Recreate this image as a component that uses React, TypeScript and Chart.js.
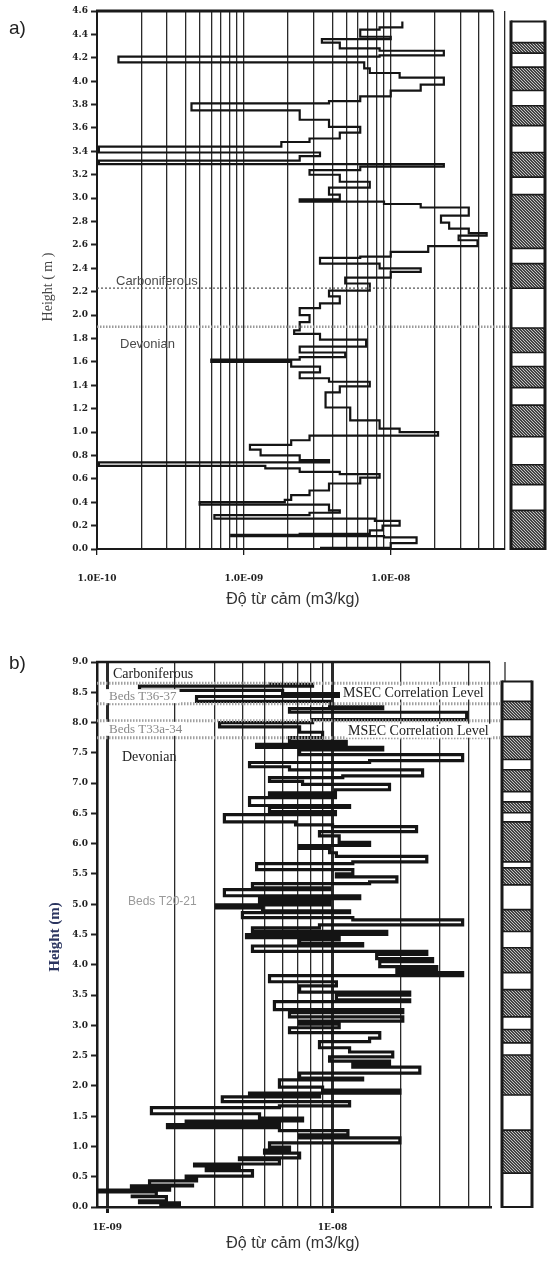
import React, { useEffect, useRef } from "react";
import { Chart, registerables } from "chart.js";
Chart.register(...registerables);

// ---------- Panel a: susceptibility profile (Carboniferous / Devonian) ----------
const aHeight = [
  0.01, 0.02, 0.05, 0.07, 0.10, 0.11, 0.12, 0.13, 0.16, 0.20,
  0.24, 0.26, 0.29, 0.31, 0.33, 0.38, 0.40, 0.42, 0.46, 0.50,
  0.56, 0.61, 0.64, 0.66, 0.69, 0.71, 0.74, 0.76, 0.80, 0.85,
  0.89, 0.93, 0.97, 1.00, 1.03, 1.10, 1.21, 1.34, 1.39, 1.43,
  1.46, 1.51, 1.56, 1.60, 1.62, 1.64, 1.68, 1.73, 1.79, 1.84,
  1.87, 1.94, 2.00, 2.06, 2.10, 2.16, 2.21, 2.27, 2.32, 2.37,
  2.40, 2.44, 2.49, 2.50, 2.54, 2.59, 2.64, 2.68, 2.70, 2.74,
  2.79, 2.85, 2.92, 2.95, 2.97, 2.99, 3.03, 3.09, 3.14, 3.20,
  3.24, 3.27, 3.29, 3.32, 3.36, 3.39, 3.44, 3.48, 3.51, 3.56,
  3.61, 3.67, 3.75, 3.81, 3.83, 3.87, 3.92, 3.97, 4.03, 4.07,
  4.11, 4.16, 4.21, 4.22, 4.26, 4.28, 4.33, 4.36, 4.38, 4.44,
  4.46, 4.51,
];
const aSusc = [
  3.3e-9, 1.0e-8, 1.0e-8, 1.5e-8, 1.5e-8, 9.0e-9, 8.2e-10, 2.4e-9, 7.2e-9, 8.8e-9,
  1.15e-8, 7.8e-9, 6.3e-10, 2.8e-9, 4.5e-9, 3.8e-9, 5.0e-10, 1.9e-9, 2.1e-9, 2.8e-9,
  3.8e-9, 6.2e-9, 8.4e-9, 4.5e-9, 2.4e-9, 1.4e-9, 1.03e-10, 3.8e-9, 2.4e-9, 1.3e-9,
  1.1e-9, 2.1e-9, 2.8e-9, 2.1e-8, 1.15e-8, 8.4e-9, 5.3e-9, 3.6e-9, 4.5e-9, 7.2e-9,
  3.8e-9, 2.4e-9, 3.3e-9, 2.1e-9, 6.0e-10, 2.4e-9, 4.9e-9, 2.4e-9, 6.8e-9, 3.3e-9,
  2.2e-9, 2.4e-9, 2.8e-9, 2.4e-9, 3.3e-9, 4.5e-9, 3.8e-9, 7.2e-9, 4.9e-9, 1.0e-8,
  1.6e-8, 8.4e-9, 3.3e-9, 6.2e-9, 1.0e-8, 1.8e-8, 3.9e-8, 2.9e-8, 4.5e-8, 3.4e-8,
  2.5e-8, 2.2e-8, 3.4e-8, 1.6e-8, 9.0e-9, 2.4e-9, 4.5e-9, 3.8e-9, 7.2e-9, 4.5e-9,
  2.8e-9, 6.2e-9, 2.3e-8, 1.03e-10, 2.4e-9, 3.3e-9, 1.03e-10, 1.8e-9, 2.8e-9, 4.5e-9,
  6.2e-9, 3.8e-9, 2.4e-9, 4.4e-10, 3.8e-9, 6.2e-9, 1.0e-8, 1.6e-8, 2.3e-8, 1.15e-8,
  7.2e-9, 6.6e-9, 1.4e-10, 8.4e-9, 2.3e-8, 8.4e-9, 4.5e-9, 3.4e-9, 1.0e-8, 6.2e-9,
  8.4e-9, 1.2e-8,
];
const aYTicks = [0, 0.2, 0.4, 0.6, 0.8, 1.0, 1.2, 1.4, 1.6, 1.8, 2.0, 2.2, 2.4, 2.6, 2.8, 3.0, 3.2, 3.4, 3.6, 3.8, 4.0, 4.2, 4.4, 4.6];
const aXLabelValues = [1e-10, 1e-9, 1e-8];
const aXLabels = ["1.0E-10", "1.0E-09", "1.0E-08"];
const aDecades = [1e-10, 1e-9, 1e-8];
const aStrataTop = 4.51;
const aHatched = [
  [4.24, 4.33], [3.92, 4.12], [3.62, 3.79], [3.18, 3.39], [2.57, 3.03], [2.23, 2.44],
  [1.68, 1.89], [1.38, 1.56], [0.96, 1.23], [0.55, 0.72], [0.0, 0.33],
];
const aBoundaryHeights = [2.23, 1.9];
const aTexts = ["Carboniferous", "Devonian"];

// ---------- Panel b ----------
const bHeight = [
  0.03, 0.07, 0.10, 0.17, 0.18, 0.25, 0.28, 0.31, 0.35, 0.36,
  0.43, 0.48, 0.51, 0.60, 0.63, 0.68, 0.71, 0.78, 0.81, 0.89,
  0.94, 0.99, 1.06, 1.14, 1.19, 1.26, 1.31, 1.36, 1.39, 1.42,
  1.47, 1.54, 1.64, 1.67, 1.74, 1.82, 1.87, 1.88, 1.93, 1.98,
  2.10, 2.13, 2.21, 2.31, 2.36, 2.41, 2.48, 2.56, 2.63, 2.73,
  2.79, 2.88, 2.96, 3.02, 3.07, 3.14, 3.21, 3.26, 3.39, 3.42,
  3.50, 3.55, 3.65, 3.72, 3.82, 3.87, 3.92, 3.97, 4.05, 4.10,
  4.17, 4.22, 4.31, 4.35, 4.41, 4.45, 4.50, 4.55, 4.61, 4.66,
  4.74, 4.78, 4.86, 4.89, 4.94, 4.99, 5.04, 5.09, 5.14, 5.24,
  5.27, 5.34, 5.37, 5.45, 5.50, 5.57, 5.67, 5.70, 5.79, 5.85,
  5.92, 5.97, 6.02, 6.13, 6.20, 6.28, 6.31, 6.36, 6.48, 6.53,
  6.60, 6.63, 6.76, 6.79, 6.84, 6.89, 6.98, 7.03, 7.09, 7.12,
  7.22, 7.27, 7.34, 7.37, 7.47, 7.55, 7.59, 7.64, 7.69, 7.75,
  7.84, 7.93, 8.00, 8.05, 8.17, 8.23, 8.26, 8.35, 8.43, 8.48,
  8.53, 8.60, 8.63, 8.66,
];
const bSusc = [
  1.70e-9, 2.09e-9, 1.39e-9, 1.83e-9, 1.29e-9, 1.65e-9, 0.90e-9, 1.89e-9, 1.28e-9, 2.39e-9,
  1.54e-9, 2.49e-9, 2.24e-9, 4.41e-9, 2.75e-9, 3.86e-9, 2.44e-9, 5.81e-9, 3.86e-9, 7.14e-9,
  4.99e-9, 6.44e-9, 5.25e-9, 1.99e-8, 7.14e-9, 1.17e-8, 5.81e-9, 1.85e-9, 5.81e-9, 2.24e-9,
  7.36e-9, 4.74e-9, 1.57e-9, 5.81e-9, 1.19e-8, 3.24e-9, 8.75e-9, 4.28e-9, 1.99e-8, 9.03e-9,
  5.81e-9, 1.36e-8, 7.14e-9, 2.44e-8, 1.23e-8, 1.79e-8, 9.70e-9, 1.85e-8, 1.19e-8, 8.75e-9,
  1.46e-8, 1.62e-8, 6.44e-9, 1.07e-8, 7.14e-9, 2.05e-8, 6.44e-9, 2.05e-8, 5.52e-9, 2.20e-8,
  1.04e-8, 2.20e-8, 7.14e-9, 1.04e-8, 5.25e-9, 3.78e-8, 1.93e-8, 2.90e-8, 1.62e-8, 2.78e-8,
  1.57e-8, 2.62e-8, 4.41e-9, 1.36e-8, 7.14e-9, 1.07e-8, 4.15e-9, 1.74e-8, 4.41e-9, 8.75e-9,
  3.78e-8, 1.23e-8, 3.98e-9, 1.19e-8, 4.89e-9, 3.05e-9, 9.70e-9, 4.74e-9, 1.32e-8, 3.31e-9,
  9.70e-9, 4.41e-9, 1.46e-8, 1.93e-8, 1.04e-8, 1.23e-8, 4.60e-9, 1.23e-8, 2.62e-8, 1.04e-8,
  9.70e-9, 7.14e-9, 1.46e-8, 1.07e-8, 8.75e-9, 2.36e-8, 1.00e-8, 6.85e-9, 3.31e-9, 1.03e-8,
  5.25e-9, 1.19e-8, 4.28e-9, 1.03e-8, 5.25e-9, 1.03e-8, 1.79e-8, 7.36e-9, 5.25e-9, 1.11e-8,
  2.51e-8, 6.44e-9, 4.28e-9, 1.46e-8, 3.78e-8, 7.14e-9, 1.67e-8, 4.60e-9, 1.15e-8, 6.44e-9,
  9.03e-9, 7.14e-9, 3.15e-9, 8.15e-9, 3.94e-8, 6.44e-9, 1.67e-8, 9.70e-9, 2.49e-9, 1.28e-8,
  6.0e-9, 1.39e-9, 8.15e-9, 5.25e-9,
];
const bYTicks = [0, 0.5, 1.0, 1.5, 2.0, 2.5, 3.0, 3.5, 4.0, 4.5, 5.0, 5.5, 6.0, 6.5, 7.0, 7.5, 8.0, 8.5, 9.0];
const bXLabelValues = [1e-9, 1e-8];
const bXLabels = ["1E-09", "1E-08"];
const bDecades = [1e-9, 1e-8];
const bStrataTop = 8.68;
const bHatched = [
  [8.05, 8.35], [7.39, 7.77], [6.86, 7.22], [6.51, 6.69], [5.70, 6.36], [5.32, 5.60],
  [4.55, 4.91], [3.87, 4.28], [3.14, 3.59], [2.71, 2.93], [1.85, 2.51], [0.56, 1.27],
];
const bBoundaryHeights = [8.65, 8.31, 8.03, 7.75];
const bTexts = ["Carboniferous", "Beds T36-37", "Beds T33a-34", "Devonian", "MSEC Correlation Level", "MSEC Correlation Level", "Beds T20-21"];

const gridMultipliers = [1, 2, 3, 4, 5, 6, 7, 8, 9];
const xTitle = "Độ từ cảm (m3/kg)";

const SERIF = '"Liberation Serif", "Times New Roman", serif';
const SANS = '"Liberation Sans", Arial, sans-serif';
const TICK_FONT = { family: '"DejaVu Serif", serif', size: 9, weight: "bold" as const };

function isDecade(v: number) {
  if (!v) return false;
  const l = Math.log10(v);
  return Math.abs(l - Math.round(l)) < 1e-6;
}
function gridValues(decades: number[], max: number) {
  const out: number[] = [];
  decades.forEach((d) => gridMultipliers.forEach((m) => { const v = m * d; if (v <= max * 1.0001) out.push(v); }));
  return out;
}
function labelFor(v: number, vals: number[], labels: string[]) {
  for (let i = 0; i < vals.length; i++) {
    if (Math.abs(Math.log10(v) - Math.log10(vals[i])) < 1e-6) return labels[i];
  }
  return "";
}
function makeHatch(ctx: CanvasRenderingContext2D) {
  const c = document.createElement("canvas");
  c.width = 6; c.height = 6;
  const g = c.getContext("2d")!;
  g.fillStyle = "#444444"; g.fillRect(0, 0, 6, 6);
  g.strokeStyle = "#c4c4c4"; g.lineWidth = 1;
  for (let i = -6; i <= 6; i += 3) { g.beginPath(); g.moveTo(i, 0); g.lineTo(i + 6, 6); g.stroke(); }
  return ctx.createPattern(c, "repeat")!;
}

type Label = { text: string; dx: number; h: number; font: string; color: string; bg?: boolean };
type Spec = {
  topBorderTo: number; topBorderWidth: number;
  strata: [number, number]; strataTop: number; hatched: number[][];
  strataStem?: number;
  boundaries: { h: number; w: number; color: string; dash: number[] }[];
  labels: Label[];
  yTitle: { text: string; x: number; y: number; font: string; color: string };
  xTitle: { x: number; y: number };
  panel: { text: string; x: number; y: number };
};

function makeDecor(spec: Spec) {
  return {
    id: "decor",
    afterDraw(chart: any) {
      const { ctx, chartArea: ca, scales } = chart;
      const x = scales.x, y = scales.y;
      ctx.save();
      // top border
      ctx.strokeStyle = "#1a1a1a";
      ctx.lineWidth = spec.topBorderWidth;
      ctx.beginPath();
      ctx.moveTo(ca.left - 1, ca.top);
      ctx.lineTo(x.getPixelForValue(spec.topBorderTo), ca.top);
      ctx.stroke();

      // strata column
      const sx0 = ca.right + spec.strata[0], sx1 = ca.right + spec.strata[1];
      const st = y.getPixelForValue(spec.strataTop), sb = y.getPixelForValue(0);
      ctx.fillStyle = "#ffffff";
      ctx.fillRect(sx0, st, sx1 - sx0, sb - st);
      const pat = makeHatch(ctx);
      spec.hatched.forEach(([lo, hi]) => {
        const yt = y.getPixelForValue(hi), yb = y.getPixelForValue(lo);
        ctx.fillStyle = pat;
        ctx.fillRect(sx0, yt, sx1 - sx0, yb - yt);
        ctx.strokeStyle = "#1a1a1a"; ctx.lineWidth = 1.6;
        ctx.beginPath(); ctx.moveTo(sx0, yt); ctx.lineTo(sx1, yt); ctx.moveTo(sx0, yb); ctx.lineTo(sx1, yb); ctx.stroke();
      });
      ctx.strokeStyle = "#1a1a1a";
      ctx.lineWidth = 2;
      ctx.beginPath(); ctx.moveTo(sx0, st); ctx.lineTo(sx1, st); ctx.moveTo(sx0, sb); ctx.lineTo(sx1, sb); ctx.stroke();
      ctx.lineWidth = 3;
      ctx.beginPath(); ctx.moveTo(sx0, st - 1); ctx.lineTo(sx0, sb + 1); ctx.moveTo(sx1, st - 1); ctx.lineTo(sx1, sb + 1); ctx.stroke();
      if (spec.strataStem !== undefined) {
        ctx.lineWidth = 1.2;
        const sx = ca.right + spec.strataStem;
        ctx.beginPath(); ctx.moveTo(sx, ca.top); ctx.lineTo(sx, st); ctx.stroke();
      }

      // boundaries
      spec.boundaries.forEach((b) => {
        const py = y.getPixelForValue(b.h);
        ctx.strokeStyle = b.color; ctx.lineWidth = b.w; ctx.setLineDash(b.dash);
        ctx.beginPath(); ctx.moveTo(ca.left, py); ctx.lineTo(sx0, py); ctx.stroke();
      });
      ctx.setLineDash([]);

      // labels
      ctx.textAlign = "left"; ctx.textBaseline = "alphabetic";
      spec.labels.forEach((l) => {
        ctx.font = l.font;
        const px = ca.left + l.dx, py = y.getPixelForValue(l.h);
        if (l.bg) {
          const w = ctx.measureText(l.text).width;
          ctx.fillStyle = "#ffffff";
          ctx.fillRect(px - 3, py - 11, w + 6, 14);
        }
        ctx.fillStyle = l.color;
        ctx.fillText(l.text, px, py);
      });

      // y title
      ctx.save();
      ctx.translate(spec.yTitle.x, spec.yTitle.y);
      ctx.rotate(-Math.PI / 2);
      ctx.font = spec.yTitle.font; ctx.fillStyle = spec.yTitle.color;
      ctx.textAlign = "center"; ctx.textBaseline = "middle";
      ctx.fillText(spec.yTitle.text, 0, 0);
      ctx.restore();

      // x title
      ctx.font = `16px ${SANS}`; ctx.fillStyle = "#333"; ctx.textAlign = "center"; ctx.textBaseline = "middle";
      ctx.fillText(xTitle, spec.xTitle.x, spec.xTitle.y);

      // panel letter
      ctx.font = `19px ${SANS}`; ctx.fillStyle = "#222"; ctx.textAlign = "left"; ctx.textBaseline = "middle";
      ctx.fillText(spec.panel.text, spec.panel.x, spec.panel.y);
      ctx.restore();
    },
  };
}

function buildConfig(p: any) {
  const grid = gridValues(p.decades, p.xMax);
  return {
    type: "scatter",
    data: {
      datasets: [{
        data: p.heights.map((h: number, i: number) => ({ x: p.values[i], y: h })),
        showLine: true, stepped: true, borderColor: "#141414", borderWidth: p.lineWidth,
        pointRadius: 0, fill: false,
      }],
    },
    options: {
      responsive: false, animation: false, events: [],
      layout: { padding: p.padding },
      plugins: { legend: { display: false }, tooltip: { enabled: false } },
      scales: {
        x: {
          type: "logarithmic", min: p.xMin, max: p.xMax,
          afterFit: (s: any) => { s.height = p.xAxisHeight; },
          afterBuildTicks: (s: any) => { s.ticks = grid.map((v) => ({ value: v })); },
          grid: {
            color: "#2a2a2a",
            lineWidth: (c: any) => (c.tick && isDecade(c.tick.value) ? p.decadeWidth : p.gridWidth),
            tickLength: 6,
            tickWidth: (c: any) => (c.tick && isDecade(c.tick.value) ? p.decadeWidth : 1),
            tickColor: (c: any) => (c.tick && isDecade(c.tick.value) ? "#1a1a1a" : "rgba(0,0,0,0)"),
          },
          border: { display: true, color: "#1a1a1a", width: p.axisWidth },
          ticks: {
            autoSkip: false, maxRotation: 0, minRotation: 0, padding: p.xTickPad, color: "#222", font: TICK_FONT,
            callback: (v: any) => labelFor(Number(v), p.xLabelValues, p.xLabels),
          },
        },
        y: {
          type: "linear", min: 0, max: p.yMax,
          afterFit: (s: any) => { s.width = 97; },
          afterBuildTicks: (s: any) => { s.ticks = p.yTicks.map((v: number) => ({ value: v })); },
          grid: { drawOnChartArea: false, tickLength: 6, tickWidth: 2, color: "#222" },
          border: { display: true, color: "#1a1a1a", width: p.axisWidth },
          ticks: { padding: 3, color: "#222", font: TICK_FONT, callback: (v: any) => Number(v).toFixed(1) },
        },
      },
    },
    plugins: [makeDecor(p.spec)],
  };
}

function ChartPanel({ make, top, height }: { make: () => any; top: number; height: number }) {
  const ref = useRef<HTMLCanvasElement>(null);
  useEffect(() => {
    const chart = new Chart(ref.current as HTMLCanvasElement, make());
    return () => chart.destroy();
  }, []);
  return (
    <canvas ref={ref} width={553} height={height}
      style={{ position: "absolute", left: 0, top, width: 553, height, display: "block" }} />
  );
}

const makeA = () => buildConfig({
  heights: aHeight, values: aSusc, decades: aDecades, xMin: 1e-10, xMax: 6e-8,
  xLabelValues: aXLabelValues, xLabels: aXLabels, yTicks: aYTicks, yMax: 4.6,
  lineWidth: 2.2, gridWidth: 1.3, decadeWidth: 1.3, axisWidth: 2, xTickPad: 18,
  padding: { left: 0, top: 11, right: 48, bottom: 0 }, xAxisHeight: 71,
  spec: {
    topBorderTo: 5e-8, topBorderWidth: 3,
    strata: [6, 40], strataTop: aStrataTop, hatched: aHatched,
    boundaries: [
      { h: aBoundaryHeights[0], w: 1.2, color: "#555", dash: [2, 2] },
      { h: aBoundaryHeights[1], w: 2.5, color: "#9a9a9a", dash: [1.5, 1.5] },
    ],
    labels: [
      { text: aTexts[0], dx: 19, h: 2.26, font: `13px ${SANS}`, color: "#4a4a4a" },
      { text: aTexts[1], dx: 23, h: 1.72, font: `13px ${SANS}`, color: "#4a4a4a" },
    ],
    yTitle: { text: "Height ( m )", x: 48, y: 287, font: `14px ${SERIF}`, color: "#444" },
    xTitle: { x: 293, y: 600 },
    panel: { text: "a)", x: 9, y: 29 },
  } as Spec,
});

const makeB = () => buildConfig({
  heights: bHeight, values: bSusc, decades: bDecades, xMin: 0.9e-9, xMax: 5e-8,
  xLabelValues: bXLabelValues, xLabels: bXLabels, yTicks: bYTicks, yMax: 9,
  lineWidth: 3.2, gridWidth: 1.3, decadeWidth: 3, axisWidth: 2.5, xTickPad: 9,
  padding: { left: 0, top: 42, right: 63, bottom: 0 }, xAxisHeight: 57,
  spec: {
    topBorderTo: 5e-8, topBorderWidth: 2.5,
    strata: [12, 42], strataTop: bStrataTop, hatched: bHatched, strataStem: 15,
    boundaries: bBoundaryHeights.map((h) => ({ h, w: 3, color: "#a0a0a0", dash: [1.5, 1.5] })),
    labels: [
      { text: bTexts[0], dx: 16, h: 8.73, font: `14px ${SERIF}`, color: "#222" },
      { text: bTexts[1], dx: 12, h: 8.37, font: `13px ${SERIF}`, color: "#8a8a8a", bg: true },
      { text: bTexts[2], dx: 12, h: 7.83, font: `13px ${SERIF}`, color: "#8a8a8a", bg: true },
      { text: bTexts[3], dx: 25, h: 7.36, font: `14px ${SERIF}`, color: "#222" },
      { text: bTexts[4], dx: 246, h: 8.43, font: `14px ${SERIF}`, color: "#222", bg: true },
      { text: bTexts[5], dx: 251, h: 7.80, font: `14px ${SERIF}`, color: "#222", bg: true },
      { text: bTexts[6], dx: 31, h: 4.99, font: `12px ${SANS}`, color: "#9a9a9a" },
    ],
    yTitle: { text: "Height (m)", x: 55, y: 317, font: `bold 15px ${SERIF}`, color: "#2b3560" },
    xTitle: { x: 293, y: 624 },
    panel: { text: "b)", x: 9, y: 44 },
  } as Spec,
});

export default function App() {
  return (
    <div style={{ position: "absolute", left: 0, top: 0, width: 553, height: 1264, background: "#fff", overflow: "hidden" }}>
      <ChartPanel make={makeA} top={0} height={620} />
      <ChartPanel make={makeB} top={620} height={644} />
    </div>
  );
}
